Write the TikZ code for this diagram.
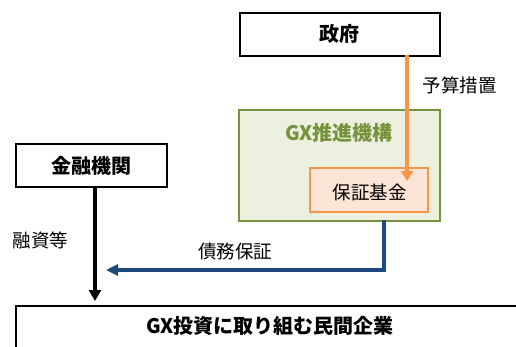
\documentclass[tikz,border=0pt]{standalone}
\usepackage{fontspec}
\setmainfont{Noto Sans CJK JP}
\usetikzlibrary{arrows.meta}
\definecolor{gxgreen}{RGB}{118,146,60}
\definecolor{gxfill}{RGB}{235,241,222}
\definecolor{orgline}{RGB}{247,150,70}
\definecolor{orgfill}{RGB}{252,228,214}
\definecolor{bluline}{RGB}{31,73,125}
\tikzset{
  blackbox/.style={draw=black, line width=1.8pt, fill=white, inner sep=0pt},
  titletext/.style={font=\fontsize{20}{20}\selectfont\bfseries},
  labeltext/.style={font=\fontsize{18.5}{18.5}\selectfont},
}
\begin{document}
\begin{tikzpicture}[x=1pt,y=1pt]
\useasboundingbox (0,0) rectangle (516,346);
% government
\node[blackbox, minimum width=200pt, minimum height=43pt, anchor=north west] (gov) at (239,334) {};
\node[titletext] at (gov.center) {政府};
% GX organisation
\node[draw=gxgreen, line width=1.8pt, fill=gxfill, minimum width=201pt, minimum height=111pt, anchor=north west, inner sep=0pt] (gx) at (238,237) {};
\node[titletext, text=gxgreen] (gxtitle) at (339,213) {GX推進機構};
% guarantee fund
\node[draw=orgline, line width=1.8pt, fill=orgfill, minimum width=118pt, minimum height=44pt, anchor=north west, inner sep=0pt] (fund) at (309,179) {};
\node[labeltext, anchor=center] at ([xshift=1pt,yshift=-3pt]fund.center) {保証基金};
% financial institutions
\node[blackbox, minimum width=151pt, minimum height=43pt, anchor=north west] (bank) at (15,203) {};
\node[titletext] at (bank.center) {金融機関};
% companies
\node[blackbox, minimum width=520pt, minimum height=50pt, anchor=north west] (corp) at (15,41) {};
\node[titletext] (corptext) at (270,20) {GX投資に取り組む民間企業};
% arrows
\coordinate (govout) at (407,291);
\coordinate (fundin) at (407,165);
\draw[orgline, line width=3.5pt, -{Triangle[length=10pt,width=12pt]}] (govout) -- (fundin);
\node[labeltext, anchor=west] at (419,261) {予算措置};
\coordinate (bankout) at (95,160);
\coordinate (corpin) at (95,45);
\draw[black, line width=3.5pt, -{Triangle[length=11pt,width=12pt]}] (bankout) -- (corpin);
\node[labeltext, anchor=west] at (9,106) {融資等};
\coordinate (gxout) at (384,126);
\coordinate (guarEnd) at (106,76);
\draw[bluline, line width=3.5pt, -{Triangle[length=12pt,width=11pt]}] (gxout) |- (guarEnd);
\node[labeltext] at (235,94) {債務保証};
\end{tikzpicture}
\end{document}
